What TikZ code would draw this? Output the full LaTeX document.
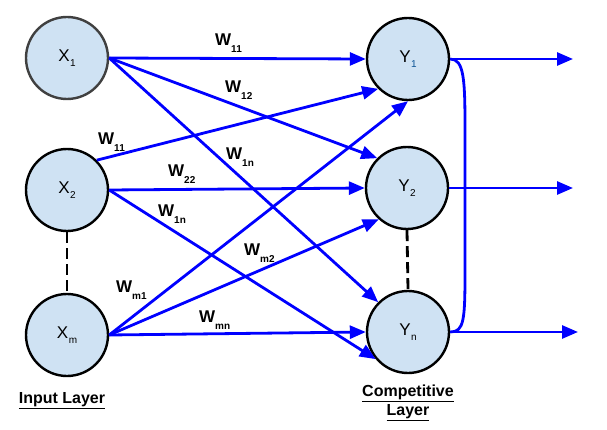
\documentclass[tikz,border=0pt]{standalone}
\usepackage{fontspec}
\setmainfont{Liberation Sans}
\usepackage{tikz}
\usetikzlibrary{arrows.meta,positioning,calc}
\definecolor{cellfill}{RGB}{207,226,243}
\definecolor{wireblue}{RGB}{0,0,255}
\definecolor{rimgray}{RGB}{64,64,64}
\definecolor{subblue}{RGB}{11,83,148}

\newcommand{\lowidx}[1]{\kern0.5pt\raisebox{-5pt}{\fontsize{10}{10}\selectfont #1}}
\newcommand{\wlabel}[1]{\textbf{W\raisebox{-7pt}{\fontsize{10}{10}\selectfont #1}}}

\begin{document}
\begin{tikzpicture}[x=1pt, y=-1pt,
    neuron/.style={draw=black, line width=2.4pt, circle, fill=cellfill,
                minimum size=82pt, inner sep=0pt, font=\fontsize{17}{17}\selectfont},
    wire/.style={-{Triangle[length=16pt,width=13pt]}, line width=2.8pt, wireblue},
    link/.style={line width=2.8pt, wireblue},
    gap/.style={draw=black, line width=2.8pt, dash pattern=on 11pt off 5pt},
    weight/.style={anchor=base west, inner sep=0pt, font=\fontsize{17}{17}\selectfont},
    layername/.style={font=\bfseries\fontsize{16}{19}\selectfont, align=center, inner sep=0pt}
]
\fill[white] (0,0) rectangle (607,430);
\useasboundingbox (0,0) rectangle (607,430);

% input layer
\node[neuron, draw=rimgray] (x1) at (67,58) {X\lowidx{1}};
\node[neuron] (x2) at (67,190) {X\lowidx{2}};
\node[neuron] (xm) at (67,335) {X\lowidx{m}};
% competitive layer
\node[neuron] (y1) at (408,59) {Y\lowidx{\color{subblue}1}};
\node[neuron] (y2) at (407,188) {Y\lowidx{2}};
\node[neuron] (yn) at (408,332) {Y\lowidx{n}};

\node[layername, anchor=base] (inlayer) at (62,403) {\underline{Input Layer}};
\node[layername, anchor=north] (complayer) at (408,385) {\underline{Competitive}\\\underline{Layer}};

\draw[gap] (x2.south) -- (xm.north);
\draw[gap] (y2.south) -- (yn.north);

% weights
\draw[wire] (x1.east) -- (y1.west);
\draw[wire] (x1.east) -- (y2.135);
\draw[wire] (x1.east) -- (yn.135);
\draw[wire] (x2.45) -- (y1.225);
\draw[wire] (x2.east) -- (y2.west);
\draw[wire] (x2.east) -- (yn.220);
\draw[wire] (xm.east) -- (y1.south);
\draw[wire] (xm.east) -- (y2.228);
\draw[wire] (xm.east) -- (yn.west);

\node[weight] (w11a) at (215,46) {\wlabel{11}};
\node[weight] (w12) at (225,93) {\wlabel{12}};
\node[weight] (w1na) at (226,160) {\wlabel{1n}};
\node[weight] (w11b) at (98,145) {\wlabel{11}};
\node[weight] (w22) at (168,177) {\wlabel{22}};
\node[weight] (w1nb) at (158,217) {\wlabel{1n}};
\node[weight] (wm1) at (116,292) {\wlabel{m1}};
\node[weight] (wm2) at (244,255) {\wlabel{m2}};
\node[weight] (wmn) at (199,322) {\wlabel{mn}};

% outputs
\coordinate (o1) at (573,59);
\coordinate (o2) at (573,188);
\coordinate (on) at (578,332);
\draw[wire] (y1.east) -- (o1);
\draw[wire] (y2.east) -- (o2);
\draw[wire] (yn.east) -- (on);

% lateral link
\coordinate (ctop) at (465,130);
\coordinate (cbot) at (465,270);
\draw[link] (y1.east) .. controls +(14,0) and +(0,-50) .. (ctop) -- (cbot)
    .. controls +(0,50) and +(14,0) .. (yn.east);
\end{tikzpicture}
\end{document}
